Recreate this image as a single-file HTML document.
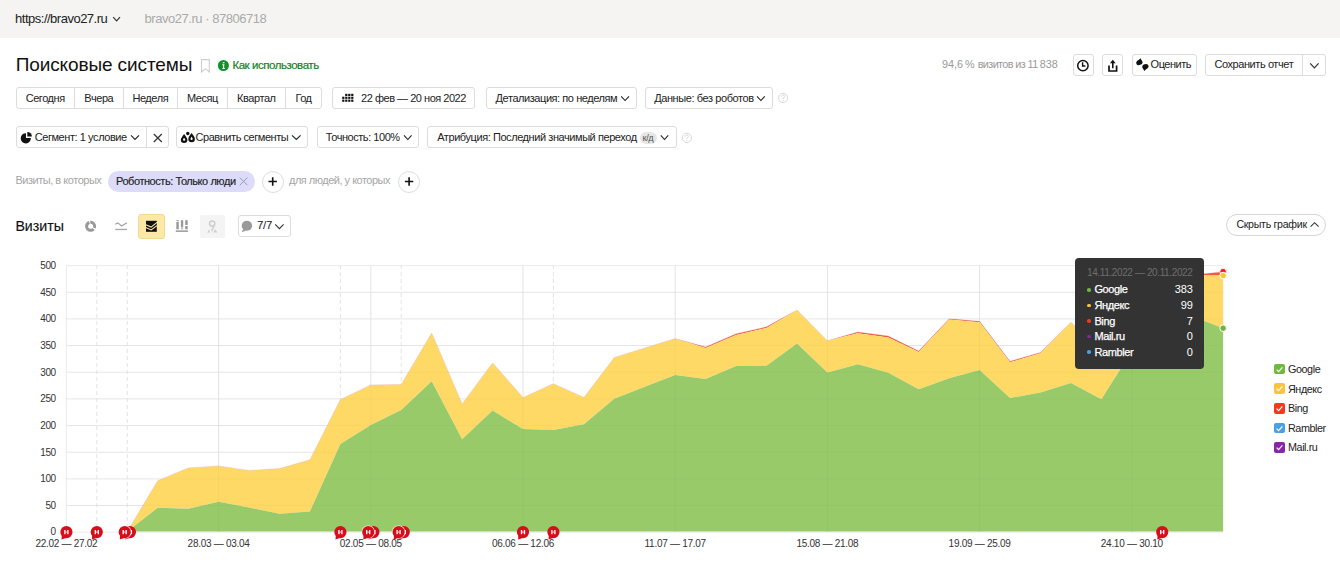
<!DOCTYPE html>
<html><head><meta charset="utf-8"><style>
html,body{margin:0;padding:0;}
body{width:1340px;height:587px;position:relative;overflow:hidden;background:#fff;font-family:"Liberation Sans",sans-serif;}
.t{position:absolute;white-space:nowrap;font-family:"Liberation Sans",sans-serif;}
svg.i{position:absolute;overflow:visible}
</style></head><body>
<div style="position:absolute;left:0px;top:0px;width:1340px;height:38px;box-sizing:border-box;background:#f5f4f2;"></div>
<div class="t" style="left:15.1px;top:12.0px;font-size:13px;line-height:13px;letter-spacing:-0.5px;color:#222;font-weight:400;">https://bravo27.ru</div>
<div class="t" style="left:144.6px;top:12.0px;font-size:13px;line-height:13px;letter-spacing:-0.47px;color:#aaa;font-weight:400;">bravo27.ru &middot; 87806718</div>
<div class="t" style="left:15.7px;top:54.9px;font-size:19px;line-height:19px;letter-spacing:-0.11px;color:#111;font-weight:400;">Поисковые системы</div>
<div class="t" style="left:232.4px;top:60.0px;font-size:11.5px;line-height:11.5px;letter-spacing:-0.45px;color:#18801f;font-weight:400;-webkit-text-stroke:0.2px #18801f;">Как использовать</div>
<div class="t" style="left:941.9px;top:58.6px;font-size:10.8px;line-height:10.8px;letter-spacing:-0.58px;color:#999;font-weight:400;">94,6&#8239;% визитов из 11&#8239;838</div>
<div style="position:absolute;left:1072.5px;top:54px;width:21.0px;height:22px;box-sizing:border-box;border:1px solid #dcdcdc;border-radius:3px;background:#fff;"></div>
<div style="position:absolute;left:1102.2px;top:54px;width:21.200000000000045px;height:22px;box-sizing:border-box;border:1px solid #dcdcdc;border-radius:3px;background:#fff;"></div>
<div style="position:absolute;left:1131.6px;top:54px;width:65.10000000000014px;height:22px;box-sizing:border-box;border:1px solid #dcdcdc;border-radius:3px;background:#fff;"></div>
<div class="t" style="left:1150.6px;top:58.7px;font-size:11px;line-height:11px;letter-spacing:-0.49px;color:#222;font-weight:400;">Оценить</div>
<div style="position:absolute;left:1205px;top:54px;width:121.40000000000009px;height:22px;box-sizing:border-box;border:1px solid #dcdcdc;border-radius:3px;background:#fff;"></div>
<div style="position:absolute;left:1302px;top:55px;width:1px;height:20px;box-sizing:border-box;background:#dcdcdc;"></div>
<div class="t" style="left:1214.4px;top:58.7px;font-size:11px;line-height:11px;letter-spacing:-0.42px;color:#222;font-weight:400;">Сохранить отчет</div>
<div style="position:absolute;left:16px;top:87px;width:305.6px;height:22px;box-sizing:border-box;border:1px solid #dcdcdc;border-radius:3px;background:#fff;"></div>
<div style="position:absolute;left:74.0px;top:88px;width:1.0px;height:20px;box-sizing:border-box;background:#dcdcdc;"></div>
<div style="position:absolute;left:122.5px;top:88px;width:1.0px;height:20px;box-sizing:border-box;background:#dcdcdc;"></div>
<div style="position:absolute;left:177.1px;top:88px;width:1.0px;height:20px;box-sizing:border-box;background:#dcdcdc;"></div>
<div style="position:absolute;left:226.8px;top:88px;width:1.0px;height:20px;box-sizing:border-box;background:#dcdcdc;"></div>
<div style="position:absolute;left:284.8px;top:88px;width:1.0px;height:20px;box-sizing:border-box;background:#dcdcdc;"></div>
<div class="t" style="left:-54.8px;width:200px;text-align:center;top:92.7px;font-size:11px;line-height:11px;letter-spacing:-0.43px;color:#222">Сегодня</div>
<div class="t" style="left:-1.2px;width:200px;text-align:center;top:92.7px;font-size:11px;line-height:11px;letter-spacing:-0.43px;color:#222">Вчера</div>
<div class="t" style="left:50.3px;width:200px;text-align:center;top:92.7px;font-size:11px;line-height:11px;letter-spacing:-0.43px;color:#222">Неделя</div>
<div class="t" style="left:102.4px;width:200px;text-align:center;top:92.7px;font-size:11px;line-height:11px;letter-spacing:-0.43px;color:#222">Месяц</div>
<div class="t" style="left:156.3px;width:200px;text-align:center;top:92.7px;font-size:11px;line-height:11px;letter-spacing:-0.43px;color:#222">Квартал</div>
<div class="t" style="left:203.5px;width:200px;text-align:center;top:92.7px;font-size:11px;line-height:11px;letter-spacing:-0.43px;color:#222">Год</div>
<div style="position:absolute;left:332.2px;top:87px;width:143.10000000000002px;height:22px;box-sizing:border-box;border:1px solid #dcdcdc;border-radius:3px;background:#fff;"></div>
<div class="t" style="left:361.1px;top:92.7px;font-size:11px;line-height:11px;letter-spacing:-0.48px;color:#222;font-weight:400;">22 фев — 20 ноя 2022</div>
<div style="position:absolute;left:486.4px;top:87px;width:150.20000000000005px;height:22px;box-sizing:border-box;border:1px solid #dcdcdc;border-radius:3px;background:#fff;"></div>
<div class="t" style="left:495.6px;top:92.7px;font-size:11px;line-height:11px;letter-spacing:-0.44px;color:#222;font-weight:400;">Детализация: по неделям</div>
<div style="position:absolute;left:645.3px;top:87px;width:127.40000000000009px;height:22px;box-sizing:border-box;border:1px solid #dcdcdc;border-radius:3px;background:#fff;"></div>
<div class="t" style="left:654.2px;top:92.7px;font-size:11px;line-height:11px;letter-spacing:-0.41px;color:#222;font-weight:400;">Данные: без роботов</div>
<div style="position:absolute;left:16px;top:126px;width:152.5px;height:22px;box-sizing:border-box;border:1px solid #dcdcdc;border-radius:3px;background:#fff;"></div>
<div style="position:absolute;left:146px;top:127px;width:1px;height:20.5px;box-sizing:border-box;background:#dcdcdc;"></div>
<div class="t" style="left:34.7px;top:131.5px;font-size:11px;line-height:11px;letter-spacing:-0.43px;color:#222;font-weight:400;">Сегмент: 1 условие</div>
<div style="position:absolute;left:176.3px;top:126px;width:131.7px;height:22px;box-sizing:border-box;border:1px solid #dcdcdc;border-radius:3px;background:#fff;"></div>
<div class="t" style="left:195.5px;top:131.5px;font-size:11px;line-height:11px;letter-spacing:-0.45px;color:#222;font-weight:400;">Сравнить сегменты</div>
<div style="position:absolute;left:316.6px;top:126px;width:102.39999999999998px;height:22px;box-sizing:border-box;border:1px solid #dcdcdc;border-radius:3px;background:#fff;"></div>
<div class="t" style="left:325.8px;top:131.5px;font-size:11px;line-height:11px;letter-spacing:-0.45px;color:#222;font-weight:400;">Точность: 100%</div>
<div style="position:absolute;left:427.3px;top:126px;width:249.3px;height:22px;box-sizing:border-box;border:1px solid #dcdcdc;border-radius:3px;background:#fff;"></div>
<div class="t" style="left:437.2px;top:131.5px;font-size:11px;line-height:11px;letter-spacing:-0.43px;color:#222;font-weight:400;">Атрибуция: Последний значимый переход</div>
<div style="position:absolute;left:640.3px;top:132.3px;width:16.600000000000023px;height:11.299999999999983px;box-sizing:border-box;background:#e6e6e6;border-radius:6px;"></div>
<div class="t" style="left:642.6px;top:133.8px;font-size:9.2px;line-height:9.2px;letter-spacing:-0.45px;color:#555;font-weight:400;">к/д</div>
<div class="t" style="left:15.4px;top:175.3px;font-size:11px;line-height:11px;letter-spacing:-0.47px;color:#a6a6a6;font-weight:400;">Визиты, в которых</div>
<div style="position:absolute;left:108px;top:171px;width:147px;height:21px;box-sizing:border-box;background:#dcdcfa;border-radius:11px;"></div>
<div class="t" style="left:116.0px;top:175.5px;font-size:11px;line-height:11px;letter-spacing:-0.44px;color:#222;font-weight:400;-webkit-text-stroke:0.15px #222;">Роботность: Только люди</div>
<div style="position:absolute;left:261.7px;top:170.5px;width:22.0px;height:22.0px;box-sizing:border-box;border:1px solid #dedede;border-radius:50%;background:#fff;"></div>
<div class="t" style="left:289.0px;top:175.3px;font-size:11px;line-height:11px;letter-spacing:-0.5px;color:#a6a6a6;font-weight:400;">для людей, у которых</div>
<div style="position:absolute;left:398.1px;top:170.5px;width:22.0px;height:22.0px;box-sizing:border-box;border:1px solid #dedede;border-radius:50%;background:#fff;"></div>
<div class="t" style="left:15.4px;top:219.2px;font-size:14.2px;line-height:14.2px;letter-spacing:0px;color:#111;font-weight:400;-webkit-text-stroke:0.15px #111;">Визиты</div>
<div style="position:absolute;left:138.3px;top:214px;width:26.399999999999977px;height:24.599999999999994px;box-sizing:border-box;background:#fde8a6;border:1px solid #f2d98f;border-radius:3px;"></div>
<div style="position:absolute;left:200.2px;top:214.8px;width:25.0px;height:22.799999999999983px;box-sizing:border-box;background:#f4f4f4;border-radius:2px;"></div>
<div style="position:absolute;left:238.3px;top:215px;width:52.599999999999966px;height:22px;box-sizing:border-box;border:1px solid #dcdcdc;border-radius:3px;background:#fff;"></div>
<div class="t" style="left:256.9px;top:220.1px;font-size:11.5px;line-height:11.5px;letter-spacing:-0.3px;color:#222;font-weight:400;">7/7</div>
<div style="position:absolute;left:1226.3px;top:214px;width:100.10000000000014px;height:22px;box-sizing:border-box;border:1px solid #d6d6d6;border-radius:11px;background:#fff;"></div>
<div class="t" style="left:1236.4px;top:218.9px;font-size:10.6px;line-height:10.6px;letter-spacing:-0.28px;color:#222;font-weight:400;">Скрыть график</div>
<svg width="1340" height="587" style="position:absolute;left:0;top:0">
<line x1="66.4" x2="1222.8" y1="532.2" y2="532.2" stroke="#ebebeb" stroke-width="1"/>
<line x1="66.4" x2="1222.8" y1="505.5" y2="505.5" stroke="#ebebeb" stroke-width="1"/>
<line x1="66.4" x2="1222.8" y1="478.9" y2="478.9" stroke="#ebebeb" stroke-width="1"/>
<line x1="66.4" x2="1222.8" y1="452.2" y2="452.2" stroke="#ebebeb" stroke-width="1"/>
<line x1="66.4" x2="1222.8" y1="425.6" y2="425.6" stroke="#ebebeb" stroke-width="1"/>
<line x1="66.4" x2="1222.8" y1="398.9" y2="398.9" stroke="#ebebeb" stroke-width="1"/>
<line x1="66.4" x2="1222.8" y1="372.2" y2="372.2" stroke="#ebebeb" stroke-width="1"/>
<line x1="66.4" x2="1222.8" y1="345.6" y2="345.6" stroke="#ebebeb" stroke-width="1"/>
<line x1="66.4" x2="1222.8" y1="318.9" y2="318.9" stroke="#ebebeb" stroke-width="1"/>
<line x1="66.4" x2="1222.8" y1="292.3" y2="292.3" stroke="#ebebeb" stroke-width="1"/>
<line x1="66.4" x2="1222.8" y1="265.6" y2="265.6" stroke="#ebebeb" stroke-width="1"/>
<line x1="66.4" x2="66.4" y1="265" y2="532.2" stroke="#ebebeb" stroke-width="1"/>
<line x1="218.6" x2="218.6" y1="265" y2="532.2" stroke="#ebebeb" stroke-width="1"/>
<line x1="370.8" x2="370.8" y1="265" y2="532.2" stroke="#ebebeb" stroke-width="1"/>
<line x1="523.0" x2="523.0" y1="265" y2="532.2" stroke="#ebebeb" stroke-width="1"/>
<line x1="675.2" x2="675.2" y1="265" y2="532.2" stroke="#ebebeb" stroke-width="1"/>
<line x1="827.4" x2="827.4" y1="265" y2="532.2" stroke="#ebebeb" stroke-width="1"/>
<line x1="979.6" x2="979.6" y1="265" y2="532.2" stroke="#ebebeb" stroke-width="1"/>
<line x1="1131.8" x2="1131.8" y1="265" y2="532.2" stroke="#ebebeb" stroke-width="1"/>
<line x1="1222.8" x2="1222.8" y1="265" y2="532.2" stroke="#eef0f6" stroke-width="1"/>
<line x1="96.8" x2="96.8" y1="265" y2="532.2" stroke="#e4e4e4" stroke-width="1" stroke-dasharray="4,3"/>
<line x1="127.3" x2="127.3" y1="265" y2="532.2" stroke="#e4e4e4" stroke-width="1" stroke-dasharray="4,3"/>
<line x1="340.4" x2="340.4" y1="265" y2="532.2" stroke="#e4e4e4" stroke-width="1" stroke-dasharray="4,3"/>
<line x1="401.2" x2="401.2" y1="265" y2="532.2" stroke="#e4e4e4" stroke-width="1" stroke-dasharray="4,3"/>
<line x1="553.4" x2="553.4" y1="265" y2="532.2" stroke="#e4e4e4" stroke-width="1" stroke-dasharray="4,3"/>
<line x1="1162.2" x2="1162.2" y1="265" y2="532.2" stroke="#e4e4e4" stroke-width="1" stroke-dasharray="4,3"/>
<polygon points="66.4,531.5 96.8,531.5 127.3,531.5 157.7,480.7 188.2,467.9 218.6,465.9 249.0,470.5 279.5,468.5 309.9,459.8 340.4,399.6 370.8,384.9 401.2,384.4 431.7,333.1 462.1,403.9 492.6,362.9 523.0,397.5 553.4,383.7 583.9,397.5 614.3,357.5 644.8,347.9 675.2,338.6 705.6,346.9 736.1,333.8 766.5,326.8 797.0,310.0 827.4,340.8 857.8,331.9 888.3,335.9 918.7,351.0 949.2,318.8 979.6,321.2 1010.0,361.3 1040.5,352.4 1070.9,322.2 1101.4,349.5 1131.8,299.0 1162.2,285.0 1192.7,275.0 1223.1,271.7 1223.1,275.5 1192.7,275.3 1162.2,285.0 1131.8,299.0 1101.4,349.5 1070.9,322.2 1040.5,353.2 1010.0,362.3 979.6,322.2 949.2,319.4 918.7,352.0 888.3,337.5 857.8,333.2 827.4,340.8 797.0,310.0 766.5,327.9 736.1,335.1 705.6,347.9 675.2,338.6 644.8,347.9 614.3,357.5 583.9,397.5 553.4,383.7 523.0,397.5 492.6,362.9 462.1,403.9 431.7,333.1 401.2,384.4 370.8,384.9 340.4,399.6 309.9,459.8 279.5,468.5 249.0,470.5 218.6,465.9 188.2,467.9 157.7,480.7 127.3,531.5 96.8,531.5 66.4,531.5" fill="#f4583a"/>
<polygon points="66.4,531.5 96.8,531.5 127.3,531.5 157.7,480.7 188.2,467.9 218.6,465.9 249.0,470.5 279.5,468.5 309.9,459.8 340.4,399.6 370.8,384.9 401.2,384.4 431.7,333.1 462.1,403.9 492.6,362.9 523.0,397.5 553.4,383.7 583.9,397.5 614.3,357.5 644.8,347.9 675.2,338.6 705.6,347.9 736.1,335.1 766.5,327.9 797.0,310.0 827.4,340.8 857.8,333.2 888.3,337.5 918.7,352.0 949.2,319.4 979.6,322.2 1010.0,362.3 1040.5,353.2 1070.9,322.2 1101.4,349.5 1131.8,299.0 1162.2,285.0 1192.7,275.3 1223.1,275.5 1223.1,328.2 1192.7,316.6 1162.2,335.0 1131.8,351.0 1101.4,399.3 1070.9,383.0 1040.5,392.6 1010.0,398.0 979.6,369.9 949.2,378.3 918.7,389.2 888.3,372.8 857.8,364.2 827.4,372.5 797.0,343.4 766.5,365.8 736.1,366.1 705.6,378.9 675.2,374.9 644.8,386.8 614.3,398.7 583.9,424.2 553.4,429.9 523.0,429.0 492.6,410.6 462.1,439.2 431.7,381.3 401.2,409.9 370.8,424.9 340.4,444.1 309.9,511.4 279.5,513.7 249.0,507.6 218.6,501.7 188.2,508.8 157.7,507.8 127.3,531.5 96.8,531.5 66.4,531.5" fill="#ffd966"/>
<polygon points="66.4,531.5 96.8,531.5 127.3,531.5 157.7,507.8 188.2,508.8 218.6,501.7 249.0,507.6 279.5,513.7 309.9,511.4 340.4,444.1 370.8,424.9 401.2,409.9 431.7,381.3 462.1,439.2 492.6,410.6 523.0,429.0 553.4,429.9 583.9,424.2 614.3,398.7 644.8,386.8 675.2,374.9 705.6,378.9 736.1,366.1 766.5,365.8 797.0,343.4 827.4,372.5 857.8,364.2 888.3,372.8 918.7,389.2 949.2,378.3 979.6,369.9 1010.0,398.0 1040.5,392.6 1070.9,383.0 1101.4,399.3 1131.8,351.0 1162.2,335.0 1192.7,316.6 1223.1,328.2 1223.1,531.6 66.4,531.6" fill="#98ca6a"/>
<polyline points="127.3,531.5 157.7,480.7 188.2,467.9 218.6,465.9 249.0,470.5 279.5,468.5 309.9,459.8 340.4,399.6 370.8,384.9 401.2,384.4 431.7,333.1 462.1,403.9 492.6,362.9 523.0,397.5 553.4,383.7 583.9,397.5 614.3,357.5 644.8,347.9 675.2,338.6 705.6,346.9 736.1,333.8 766.5,326.8 797.0,310.0 827.4,340.8 857.8,331.9 888.3,335.9 918.7,351.0 949.2,318.8 979.6,321.2 1010.0,361.3 1040.5,352.4 1070.9,322.2 1101.4,349.5 1131.8,299.0 1162.2,285.0 1192.7,275.0 1223.1,271.7" fill="none" stroke="#e0a0c0" stroke-width="0.5" opacity="0.6"/>
<line x1="66.4" x2="1222.8" y1="505.5" y2="505.5" stroke="#000" stroke-opacity="0.025" stroke-width="1"/>
<line x1="66.4" x2="1222.8" y1="478.9" y2="478.9" stroke="#000" stroke-opacity="0.025" stroke-width="1"/>
<line x1="66.4" x2="1222.8" y1="452.2" y2="452.2" stroke="#000" stroke-opacity="0.025" stroke-width="1"/>
<line x1="66.4" x2="1222.8" y1="425.6" y2="425.6" stroke="#000" stroke-opacity="0.025" stroke-width="1"/>
<line x1="66.4" x2="1222.8" y1="398.9" y2="398.9" stroke="#000" stroke-opacity="0.025" stroke-width="1"/>
<line x1="66.4" x2="1222.8" y1="372.2" y2="372.2" stroke="#000" stroke-opacity="0.025" stroke-width="1"/>
<line x1="66.4" x2="1222.8" y1="345.6" y2="345.6" stroke="#000" stroke-opacity="0.025" stroke-width="1"/>
<line x1="66.4" x2="1222.8" y1="318.9" y2="318.9" stroke="#000" stroke-opacity="0.025" stroke-width="1"/>
<line x1="66.4" x2="1222.8" y1="292.3" y2="292.3" stroke="#000" stroke-opacity="0.025" stroke-width="1"/>
<line x1="218.6" x2="218.6" y1="265" y2="532.2" stroke="#000" stroke-opacity="0.03" stroke-width="1"/>
<line x1="370.8" x2="370.8" y1="265" y2="532.2" stroke="#000" stroke-opacity="0.03" stroke-width="1"/>
<line x1="523.0" x2="523.0" y1="265" y2="532.2" stroke="#000" stroke-opacity="0.03" stroke-width="1"/>
<line x1="675.2" x2="675.2" y1="265" y2="532.2" stroke="#000" stroke-opacity="0.03" stroke-width="1"/>
<line x1="827.4" x2="827.4" y1="265" y2="532.2" stroke="#000" stroke-opacity="0.03" stroke-width="1"/>
<line x1="979.6" x2="979.6" y1="265" y2="532.2" stroke="#000" stroke-opacity="0.03" stroke-width="1"/>
<line x1="1131.8" x2="1131.8" y1="265" y2="532.2" stroke="#000" stroke-opacity="0.03" stroke-width="1"/>
<circle cx="1223.1" cy="271.5" r="3.3" fill="#f22" stroke="#fff" stroke-width="1"/>
<circle cx="1223.1" cy="275.6" r="3.3" fill="#fcc634" stroke="#fff" stroke-width="1"/>
<circle cx="1223.1" cy="328.2" r="3.3" fill="#73b43e" stroke="#fff" stroke-width="1"/>
<g><path d="M61.8,535.3 L61.5,539.4 L66.1,537.9 Z" fill="#d60d1a"/><circle cx="66.4" cy="532.1" r="6.1" fill="#d60d1a"/><path d="M64.9,530.1 v4.1 M67.9,530.1 v4.1" stroke="#fff" stroke-width="1.3" fill="none"/><path d="M65.4,532.1 h2" stroke="#fff" stroke-width="0.8"/></g>
<g><path d="M92.2,535.3 L91.9,539.4 L96.5,537.9 Z" fill="#d60d1a"/><circle cx="96.8" cy="532.1" r="6.1" fill="#d60d1a"/><path d="M95.3,530.1 v4.1 M98.3,530.1 v4.1" stroke="#fff" stroke-width="1.3" fill="none"/><path d="M95.8,532.1 h2" stroke="#fff" stroke-width="0.8"/></g>
<g><path d="M518.4,535.3 L518.1,539.4 L522.7,537.9 Z" fill="#d60d1a"/><circle cx="523.0" cy="532.1" r="6.1" fill="#d60d1a"/><path d="M521.5,530.1 v4.1 M524.5,530.1 v4.1" stroke="#fff" stroke-width="1.3" fill="none"/><path d="M522.0,532.1 h2" stroke="#fff" stroke-width="0.8"/></g>
<g><path d="M548.8,535.3 L548.5,539.4 L553.1,537.9 Z" fill="#d60d1a"/><circle cx="553.4" cy="532.1" r="6.1" fill="#d60d1a"/><path d="M551.9,530.1 v4.1 M554.9,530.1 v4.1" stroke="#fff" stroke-width="1.3" fill="none"/><path d="M552.4,532.1 h2" stroke="#fff" stroke-width="0.8"/></g>
<g><path d="M335.8,535.3 L335.5,539.4 L340.1,537.9 Z" fill="#d60d1a"/><circle cx="340.4" cy="532.1" r="6.1" fill="#d60d1a"/><path d="M338.9,530.1 v4.1 M341.9,530.1 v4.1" stroke="#fff" stroke-width="1.3" fill="none"/><path d="M339.4,532.1 h2" stroke="#fff" stroke-width="0.8"/></g>
<g><path d="M1157.6,535.3 L1157.3,539.4 L1161.9,537.9 Z" fill="#d60d1a"/><circle cx="1162.2" cy="532.1" r="6.1" fill="#d60d1a"/><path d="M1160.7,530.1 v4.1 M1163.7,530.1 v4.1" stroke="#fff" stroke-width="1.3" fill="none"/><path d="M1161.2,532.1 h2" stroke="#fff" stroke-width="0.8"/></g>
<g><path d="M125.3,535.3 L125.0,539.4 L129.6,537.9 Z" fill="#d60d1a"/><circle cx="129.9" cy="532.1" r="6.1" fill="#d60d1a"/><path d="M128.4,530.1 v4.1 M131.4,530.1 v4.1" stroke="#fff" stroke-width="1.3" fill="none"/><path d="M128.9,532.1 h2" stroke="#fff" stroke-width="0.8"/></g>
<g><circle cx="124.7" cy="532.1" r="6.7" fill="#fff"/><path d="M120.1,535.3 L119.8,539.4 L124.4,537.9 Z" fill="#d60d1a"/><circle cx="124.7" cy="532.1" r="6.1" fill="#d60d1a"/><path d="M123.2,530.1 v4.1 M126.2,530.1 v4.1" stroke="#fff" stroke-width="1.3" fill="none"/><path d="M123.7,532.1 h2" stroke="#fff" stroke-width="0.8"/></g>
<g><path d="M368.8,535.3 L368.5,539.4 L373.1,537.9 Z" fill="#d60d1a"/><circle cx="373.4" cy="532.1" r="6.1" fill="#d60d1a"/><path d="M371.9,530.1 v4.1 M374.9,530.1 v4.1" stroke="#fff" stroke-width="1.3" fill="none"/><path d="M372.4,532.1 h2" stroke="#fff" stroke-width="0.8"/></g>
<g><circle cx="368.2" cy="532.1" r="6.7" fill="#fff"/><path d="M363.6,535.3 L363.3,539.4 L367.9,537.9 Z" fill="#d60d1a"/><circle cx="368.2" cy="532.1" r="6.1" fill="#d60d1a"/><path d="M366.7,530.1 v4.1 M369.7,530.1 v4.1" stroke="#fff" stroke-width="1.3" fill="none"/><path d="M367.2,532.1 h2" stroke="#fff" stroke-width="0.8"/></g>
<g><path d="M399.2,535.3 L398.9,539.4 L403.5,537.9 Z" fill="#d60d1a"/><circle cx="403.8" cy="532.1" r="6.1" fill="#d60d1a"/><path d="M402.3,530.1 v4.1 M405.3,530.1 v4.1" stroke="#fff" stroke-width="1.3" fill="none"/><path d="M402.8,532.1 h2" stroke="#fff" stroke-width="0.8"/></g>
<g><circle cx="398.6" cy="532.1" r="6.7" fill="#fff"/><path d="M394.0,535.3 L393.7,539.4 L398.3,537.9 Z" fill="#d60d1a"/><circle cx="398.6" cy="532.1" r="6.1" fill="#d60d1a"/><path d="M397.1,530.1 v4.1 M400.1,530.1 v4.1" stroke="#fff" stroke-width="1.3" fill="none"/><path d="M397.6,532.1 h2" stroke="#fff" stroke-width="0.8"/></g>
</svg>
<div class="t" style="right:1284.4px;top:527.4px;font-size:10px;line-height:10px;letter-spacing:-0.45px;color:#333;font-weight:400">0</div>
<div class="t" style="right:1284.4px;top:500.8px;font-size:10px;line-height:10px;letter-spacing:-0.45px;color:#333;font-weight:400">50</div>
<div class="t" style="right:1284.4px;top:474.1px;font-size:10px;line-height:10px;letter-spacing:-0.45px;color:#333;font-weight:400">100</div>
<div class="t" style="right:1284.4px;top:447.5px;font-size:10px;line-height:10px;letter-spacing:-0.45px;color:#333;font-weight:400">150</div>
<div class="t" style="right:1284.4px;top:420.8px;font-size:10px;line-height:10px;letter-spacing:-0.45px;color:#333;font-weight:400">200</div>
<div class="t" style="right:1284.4px;top:394.1px;font-size:10px;line-height:10px;letter-spacing:-0.45px;color:#333;font-weight:400">250</div>
<div class="t" style="right:1284.4px;top:367.5px;font-size:10px;line-height:10px;letter-spacing:-0.45px;color:#333;font-weight:400">300</div>
<div class="t" style="right:1284.4px;top:340.8px;font-size:10px;line-height:10px;letter-spacing:-0.45px;color:#333;font-weight:400">350</div>
<div class="t" style="right:1284.4px;top:314.2px;font-size:10px;line-height:10px;letter-spacing:-0.45px;color:#333;font-weight:400">400</div>
<div class="t" style="right:1284.4px;top:287.5px;font-size:10px;line-height:10px;letter-spacing:-0.45px;color:#333;font-weight:400">450</div>
<div class="t" style="right:1284.4px;top:260.8px;font-size:10px;line-height:10px;letter-spacing:-0.45px;color:#333;font-weight:400">500</div>
<div class="t" style="left:-33.6px;width:200px;text-align:center;top:538.5px;font-size:10px;line-height:10px;letter-spacing:-0.28px;color:#333">22.02 — 27.02</div>
<div class="t" style="left:118.6px;width:200px;text-align:center;top:538.5px;font-size:10px;line-height:10px;letter-spacing:-0.28px;color:#333">28.03 — 03.04</div>
<div class="t" style="left:270.8px;width:200px;text-align:center;top:538.5px;font-size:10px;line-height:10px;letter-spacing:-0.28px;color:#333">02.05 — 08.05</div>
<div class="t" style="left:423.0px;width:200px;text-align:center;top:538.5px;font-size:10px;line-height:10px;letter-spacing:-0.28px;color:#333">06.06 — 12.06</div>
<div class="t" style="left:575.2px;width:200px;text-align:center;top:538.5px;font-size:10px;line-height:10px;letter-spacing:-0.28px;color:#333">11.07 — 17.07</div>
<div class="t" style="left:727.4px;width:200px;text-align:center;top:538.5px;font-size:10px;line-height:10px;letter-spacing:-0.28px;color:#333">15.08 — 21.08</div>
<div class="t" style="left:879.6px;width:200px;text-align:center;top:538.5px;font-size:10px;line-height:10px;letter-spacing:-0.28px;color:#333">19.09 — 25.09</div>
<div class="t" style="left:1031.8px;width:200px;text-align:center;top:538.5px;font-size:10px;line-height:10px;letter-spacing:-0.28px;color:#333">24.10 — 30.10</div>
<div style="position:absolute;left:1273.8px;top:363.7px;width:10.8px;height:10.8px;border-radius:2px;background:#72b73f"></div>
<svg width="11" height="11" style="position:absolute;left:1273.8px;top:363.7px"><path d="M2.6,5.6 L4.6,7.6 L8.4,3.4" stroke="#fff" stroke-width="1.2" fill="none"/></svg>
<div class="t" style="left:1288.0px;top:363.9px;font-size:10.8px;line-height:10.8px;letter-spacing:-0.43px;color:#222;font-weight:400;">Google</div>
<div style="position:absolute;left:1273.8px;top:383.3px;width:10.8px;height:10.8px;border-radius:2px;background:#fcc43a"></div>
<svg width="11" height="11" style="position:absolute;left:1273.8px;top:383.3px"><path d="M2.6,5.6 L4.6,7.6 L8.4,3.4" stroke="#fff" stroke-width="1.2" fill="none"/></svg>
<div class="t" style="left:1288.0px;top:383.5px;font-size:10.8px;line-height:10.8px;letter-spacing:-0.43px;color:#222;font-weight:400;">Яндекс</div>
<div style="position:absolute;left:1273.8px;top:402.9px;width:10.8px;height:10.8px;border-radius:2px;background:#f5381e"></div>
<svg width="11" height="11" style="position:absolute;left:1273.8px;top:402.9px"><path d="M2.6,5.6 L4.6,7.6 L8.4,3.4" stroke="#fff" stroke-width="1.2" fill="none"/></svg>
<div class="t" style="left:1288.0px;top:403.1px;font-size:10.8px;line-height:10.8px;letter-spacing:-0.43px;color:#222;font-weight:400;">Bing</div>
<div style="position:absolute;left:1273.8px;top:422.5px;width:10.8px;height:10.8px;border-radius:2px;background:#49a0e3"></div>
<svg width="11" height="11" style="position:absolute;left:1273.8px;top:422.5px"><path d="M2.6,5.6 L4.6,7.6 L8.4,3.4" stroke="#fff" stroke-width="1.2" fill="none"/></svg>
<div class="t" style="left:1288.0px;top:422.7px;font-size:10.8px;line-height:10.8px;letter-spacing:-0.43px;color:#222;font-weight:400;">Rambler</div>
<div style="position:absolute;left:1273.8px;top:442.1px;width:10.8px;height:10.8px;border-radius:2px;background:#8a24a8"></div>
<svg width="11" height="11" style="position:absolute;left:1273.8px;top:442.1px"><path d="M2.6,5.6 L4.6,7.6 L8.4,3.4" stroke="#fff" stroke-width="1.2" fill="none"/></svg>
<div class="t" style="left:1288.0px;top:442.3px;font-size:10.8px;line-height:10.8px;letter-spacing:-0.43px;color:#222;font-weight:400;">Mail.ru</div>
<div style="position:absolute;left:1075.4px;top:258px;width:128.39999999999986px;height:110.60000000000002px;box-sizing:border-box;background:#333;border-radius:4px;"></div>
<div class="t" style="left:1087.0px;top:267.5px;font-size:10px;line-height:10px;letter-spacing:-0.38px;color:#6e6e6e;font-weight:400;">14.11.2022 — 20.11.2022</div>
<div style="position:absolute;left:1087.3px;top:288.1px;width:3.6px;height:3.6px;border-radius:50%;background:#72b73f"></div>
<div class="t" style="left:1094.4px;top:284.4px;font-size:11px;line-height:11px;letter-spacing:-0.38px;color:#fff;font-weight:400;-webkit-text-stroke:0.25px #fff;">Google</div>
<div class="t" style="right:147.4px;top:284.4px;font-size:11px;line-height:11px;letter-spacing:-0.2px;color:#fff;font-weight:400">383</div>
<div style="position:absolute;left:1087.3px;top:303.6px;width:3.6px;height:3.6px;border-radius:50%;background:#fcc43a"></div>
<div class="t" style="left:1094.4px;top:299.9px;font-size:11px;line-height:11px;letter-spacing:-0.38px;color:#fff;font-weight:400;-webkit-text-stroke:0.25px #fff;">Яндекс</div>
<div class="t" style="right:147.4px;top:299.9px;font-size:11px;line-height:11px;letter-spacing:-0.2px;color:#fff;font-weight:400">99</div>
<div style="position:absolute;left:1087.3px;top:319.2px;width:3.6px;height:3.6px;border-radius:50%;background:#f5381e"></div>
<div class="t" style="left:1094.4px;top:315.5px;font-size:11px;line-height:11px;letter-spacing:-0.38px;color:#fff;font-weight:400;-webkit-text-stroke:0.25px #fff;">Bing</div>
<div class="t" style="right:147.4px;top:315.5px;font-size:11px;line-height:11px;letter-spacing:-0.2px;color:#fff;font-weight:400">7</div>
<div style="position:absolute;left:1087.3px;top:334.7px;width:3.6px;height:3.6px;border-radius:50%;background:#8a24a8"></div>
<div class="t" style="left:1094.4px;top:331.0px;font-size:11px;line-height:11px;letter-spacing:-0.38px;color:#fff;font-weight:400;-webkit-text-stroke:0.25px #fff;">Mail.ru</div>
<div class="t" style="right:147.4px;top:331.0px;font-size:11px;line-height:11px;letter-spacing:-0.2px;color:#fff;font-weight:400">0</div>
<div style="position:absolute;left:1087.3px;top:350.3px;width:3.6px;height:3.6px;border-radius:50%;background:#49a0e3"></div>
<div class="t" style="left:1094.4px;top:346.6px;font-size:11px;line-height:11px;letter-spacing:-0.38px;color:#fff;font-weight:400;-webkit-text-stroke:0.25px #fff;">Rambler</div>
<div class="t" style="right:147.4px;top:346.6px;font-size:11px;line-height:11px;letter-spacing:-0.2px;color:#fff;font-weight:400">0</div>
<svg width="1340" height="587" style="position:absolute;left:0;top:0">
<polyline points="113.2,17.2 116.6,20.8 120.0,17.2" fill="none" stroke="#333" stroke-width="1.2"/>
<path d="M201.5,59.6 H209.3 V72 L205.4,68.7 L201.5,72 Z" fill="none" stroke="#cdcdcd" stroke-width="1.1"/>
<circle cx="223.4" cy="65.5" r="5.5" fill="#12902c"/>
<rect x="222.8" y="62.0" width="1.6" height="1.3" fill="#fff"/><path d="M222.3,64.8 H224.4 M223.6,64.3 V68.6 M222.3,68.5 H225" stroke="#fff" stroke-width="1.1" fill="none"/>
<circle cx="783.1" cy="97.9" r="4.6" fill="none" stroke="#d4d4d4" stroke-width="0.9"/>
<path d="M781.6,96.60000000000001 Q781.7,95.0 783.1,95.0 Q784.7,95.0 784.7,96.4 Q784.7,97.4 783.1,98.10000000000001 V99.10000000000001" fill="none" stroke="#d4d4d4" stroke-width="0.9"/><circle cx="783.1" cy="100.5" r="0.6" fill="#d4d4d4"/>
<circle cx="686.9" cy="137.9" r="4.6" fill="none" stroke="#d4d4d4" stroke-width="0.9"/>
<path d="M685.4,136.6 Q685.5,135.0 686.9,135.0 Q688.5,135.0 688.5,136.4 Q688.5,137.4 686.9,138.1 V139.1" fill="none" stroke="#d4d4d4" stroke-width="0.9"/><circle cx="686.9" cy="140.5" r="0.6" fill="#d4d4d4"/>
<polyline points="621.2,96.3 625.1,100.5 629.0,96.3" fill="none" stroke="#222" stroke-width="1.1"/>
<polyline points="757.0,96.3 760.9,100.5 764.8,96.3" fill="none" stroke="#222" stroke-width="1.1"/>
<rect x="345.2" y="93.8" width="2.2" height="2.2" fill="#111"/>
<rect x="348.2" y="93.8" width="2.2" height="2.2" fill="#111"/>
<rect x="351.2" y="93.8" width="2.2" height="2.2" fill="#111"/>
<rect x="342.2" y="96.7" width="2.2" height="2.2" fill="#111"/>
<rect x="345.2" y="96.7" width="2.2" height="2.2" fill="#111"/>
<rect x="348.2" y="96.7" width="2.2" height="2.2" fill="#111"/>
<rect x="351.2" y="96.7" width="2.2" height="2.2" fill="#111"/>
<rect x="342.2" y="99.6" width="2.2" height="2.2" fill="#111"/>
<rect x="345.2" y="99.6" width="2.2" height="2.2" fill="#111"/>
<rect x="348.2" y="99.6" width="2.2" height="2.2" fill="#111"/>
<rect x="351.2" y="99.6" width="2.2" height="2.2" fill="#111"/>
<polyline points="131.0,135.3 135.0,139.5 139.0,135.3" fill="none" stroke="#222" stroke-width="1.1"/>
<polyline points="292.0,135.3 296.3,139.5 300.6,135.3" fill="none" stroke="#222" stroke-width="1.1"/>
<polyline points="404.0,135.3 407.8,139.5 411.6,135.3" fill="none" stroke="#222" stroke-width="1.1"/>
<polyline points="660.8,135.3 664.5,139.5 668.2,135.3" fill="none" stroke="#222" stroke-width="1.1"/>
<path d="M153.8,134 L161.8,142 M161.8,134 L153.8,142" stroke="#333" stroke-width="1.2"/>
<path d="M26,133.2 A5.1,5.1 0 1 0 30.9,138.1 L26,138.1 Z" fill="#111"/>
<path d="M27.3,132 A4.6,4.6 0 0 1 31.9,136.6 L27.3,136.6 Z" fill="#111"/>
<path d="M184.1,135.9 C185.29999999999998,137.70000000000002 186.29999999999998,138.3 186.29999999999998,139.70000000000002 A2.2,2.2 0 1 1 181.9,139.70000000000002 C181.9,138.3 182.9,137.70000000000002 184.1,135.9 Z" fill="#fff" stroke="#111" stroke-width="2.2"/>
<path d="M191.6,134.9 C192.79999999999998,136.70000000000002 193.79999999999998,137.5 193.79999999999998,138.9 A2.2,2.2 0 1 1 189.4,138.9 C189.4,137.5 190.4,136.70000000000002 191.6,134.9 Z" fill="#fff" stroke="#111" stroke-width="2.2"/>
<circle cx="187.8" cy="133.5" r="1.7" fill="#111"/>
<path d="M268.5,181.5 H276.9 M272.7,177.3 V185.7" stroke="#111" stroke-width="1.6"/>
<path d="M404.90000000000003,181.5 H413.3 M409.1,177.3 V185.7" stroke="#111" stroke-width="1.6"/>
<path d="M239.8,177.6 L247.4,185.2 M247.4,177.6 L239.8,185.2" stroke="#9a9ab0" stroke-width="1"/>
<circle cx="1082.9" cy="65.6" r="5.2" fill="none" stroke="#111" stroke-width="1.5"/>
<path d="M1082.6,62.3 V66 H1085.4" fill="none" stroke="#111" stroke-width="1.4"/>
<path d="M1109,65.5 V71 H1116.6 V65.5" fill="none" stroke="#111" stroke-width="1.7"/>
<path d="M1112.8,68.3 V62" stroke="#111" stroke-width="1.6"/><path d="M1109.9,63.2 L1112.8,59.8 L1115.7,63.2 Z" fill="#111"/>
<ellipse cx="1139.4" cy="62.6" rx="3.2" ry="2.4" transform="rotate(-20 1139.4 62.6)" fill="#111"/><path d="M1137.2,61.2 L1140.6,58.2 L1141.8,61 Z" fill="#111"/>
<ellipse cx="1145.4" cy="66.6" rx="3.2" ry="2.4" transform="rotate(-20 1145.4 66.6)" fill="#111"/><path d="M1147.6,68 L1144.2,71 L1143,68.2 Z" fill="#111"/>
<polyline points="1310.2,63.3 1314.4,67.9 1318.6,63.3" fill="none" stroke="#333" stroke-width="1.2"/>
<circle cx="90.6" cy="226.3" r="4.0" fill="none" stroke="#999" stroke-width="3.0" stroke-dasharray="1.75 1.05 14.3 0.9 7.13 0"/>
<polyline points="115.3,224.3 118,222.9 121.5,225.9 127,222.7" fill="none" stroke="#a0a0a0" stroke-width="1.2"/>
<rect x="115.3" y="228.8" width="11.8" height="1.3" fill="#a8a8a8"/>
<rect x="146" y="220.8" width="10.8" height="11" fill="#111"/>
<polyline points="145.8,224.8 151.1,227.1 157,222.4" fill="none" stroke="#fde8a6" stroke-width="1.1"/>
<polyline points="145.8,227.6 151.1,229.9 157,225.6" fill="none" stroke="#fde8a6" stroke-width="1.1"/>
<polyline points="145.8,222.2 151.4,224.4 157,222.2" fill="none" stroke="#fde8a6" stroke-width="0.7" opacity="0"/>
<g fill="#999"><rect x="176.3" y="220.2" width="2.5" height="1" /><rect x="176.3" y="222" width="2.5" height="7.3"/><rect x="180.9" y="220.2" width="2.3" height="7.3"/><rect x="180.9" y="228.4" width="2.3" height="0.9"/><rect x="185.2" y="220.2" width="2.5" height="4.8"/><rect x="185.2" y="226" width="2.5" height="3.3"/><rect x="175.8" y="230.4" width="12.2" height="1.5"/></g>
<circle cx="212.2" cy="223.6" r="2.6" fill="none" stroke="#cfcfcf" stroke-width="1.6"/><path d="M214.4,225.2 L211.6,231" stroke="#cfcfcf" stroke-width="1.5"/><path d="M207.2,232.4 L209,229.5 L210.3,232.4 Z M213,232.4 L215.2,229.2 L217.4,232.4 Z" fill="#cfcfcf"/>
<ellipse cx="246.9" cy="225.8" rx="5.2" ry="5" fill="#999"/><path d="M243,229 L241.9,232.2 L246,230.4 Z" fill="#999"/>
<polyline points="275.2,224.4 279.4,228.6 283.6,224.4" fill="none" stroke="#333" stroke-width="1.1"/>
<polyline points="1310.6,226.6 1314.6,222.7 1318.6,226.6" fill="none" stroke="#333" stroke-width="1.1"/>
</svg>
</body></html>
